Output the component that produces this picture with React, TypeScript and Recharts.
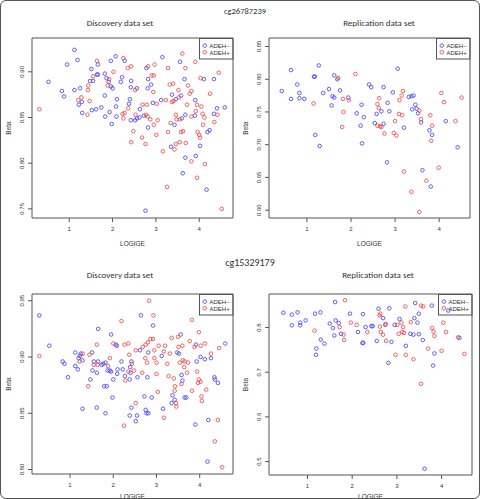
import React from "react";
import {
  ScatterChart,
  Scatter,
  XAxis,
  YAxis,
  ReferenceArea,
  Label,
} from "recharts";

// LOGIGE / Beta pairs per probe, data set and ADEH status
const cg26DiscNeg: [number, number][] = [
  [1.12, 0.924], [1.19, 0.913], [0.95, 0.908], [1.51, 0.903], [1.66, 0.908], [1.96, 0.912], [2.07, 0.917],
  [2.28, 0.912], [2.78, 0.904], [3.15, 0.916], [3.56, 0.911], [4.34, 0.892], [4.11, 0.892], [0.52, 0.889],
  [0.83, 0.879], [0.88, 0.873], [1.12, 0.88], [1.25, 0.882], [1.48, 0.89], [1.55, 0.89], [1.64, 0.897],
  [1.66, 0.897], [1.82, 0.898], [1.86, 0.893], [1.91, 0.889], [1.96, 0.884], [2.0, 0.882], [1.82, 0.874],
  [2.19, 0.889], [2.22, 0.894], [2.42, 0.883], [2.43, 0.89], [2.56, 0.882], [2.81, 0.882], [2.82, 0.892],
  [2.89, 0.886], [3.66, 0.892], [3.37, 0.875], [3.46, 0.87], [3.58, 0.874], [1.22, 0.864], [1.29, 0.867],
  [2.1, 0.87], [2.4, 0.87], [2.38, 0.865], [2.93, 0.866], [3.12, 0.869], [3.91, 0.869], [4.41, 0.86],
  [4.59, 0.861], [1.3, 0.855], [1.52, 0.858], [1.62, 0.859], [1.74, 0.861], [2.08, 0.862], [1.93, 0.856],
  [1.83, 0.851], [2.09, 0.851], [2.63, 0.859], [2.72, 0.852], [2.62, 0.85], [2.56, 0.849], [2.42, 0.847],
  [2.52, 0.847], [3.6, 0.849], [3.68, 0.853], [3.9, 0.852], [4.34, 0.854], [1.98, 0.843], [3.43, 0.842],
  [2.82, 0.839], [4.19, 0.834], [4.24, 0.836], [3.35, 0.818], [4.02, 0.819], [3.68, 0.806], [3.92, 0.808],
  [3.62, 0.789], [4.17, 0.771], [2.76, 0.748],
];
const cg26DiscPos: [number, number][] = [
  [1.64, 0.912], [2.25, 0.915], [2.35, 0.904], [2.43, 0.906], [2.82, 0.906], [2.97, 0.908], [3.28, 0.904],
  [3.61, 0.92], [3.68, 0.904], [3.91, 0.911], [4.45, 0.899], [4.03, 0.893], [1.44, 0.885], [1.55, 0.895],
  [1.92, 0.892], [1.89, 0.885], [2.02, 0.9], [2.52, 0.88], [2.9, 0.896], [2.95, 0.896], [2.94, 0.878],
  [3.32, 0.886], [3.4, 0.887], [3.52, 0.88], [3.53, 0.872], [3.74, 0.885], [3.82, 0.879], [3.78, 0.876],
  [4.25, 0.876], [1.43, 0.88], [1.21, 0.869], [1.28, 0.872], [1.47, 0.868], [2.69, 0.864], [2.79, 0.864],
  [3.02, 0.865], [3.23, 0.869], [3.37, 0.867], [3.41, 0.868], [3.72, 0.864], [3.95, 0.864], [4.05, 0.862],
  [0.31, 0.859], [1.42, 0.853], [2.23, 0.854], [2.28, 0.855], [2.36, 0.86], [2.53, 0.853], [2.77, 0.853],
  [2.81, 0.851], [2.25, 0.849], [2.87, 0.848], [3.46, 0.853], [3.55, 0.848], [3.82, 0.851], [3.92, 0.857],
  [4.08, 0.854], [4.12, 0.85], [4.42, 0.853], [3.04, 0.847], [2.95, 0.842], [3.34, 0.844], [3.48, 0.848],
  [4.09, 0.842], [4.35, 0.845], [2.48, 0.835], [2.68, 0.828], [3.01, 0.831], [3.28, 0.834], [3.58, 0.834],
  [3.63, 0.835], [3.96, 0.834], [4.0, 0.831], [4.02, 0.828], [2.43, 0.823], [2.76, 0.821], [3.46, 0.821],
  [3.55, 0.823], [3.69, 0.822], [3.43, 0.815], [3.16, 0.813], [3.82, 0.802], [4.13, 0.799], [3.95, 0.784],
  [3.26, 0.774], [4.52, 0.75],
];
const cg26RepNeg: [number, number][] = [
  [0.43, 0.782], [0.64, 0.814], [0.64, 0.77], [0.78, 0.792], [0.83, 0.779], [0.83, 0.771], [0.94, 0.77],
  [1.16, 0.804], [1.18, 0.804], [1.27, 0.821], [1.37, 0.779], [1.5, 0.785], [1.56, 0.76], [1.58, 0.774],
  [1.62, 0.772], [1.62, 0.806], [1.75, 0.783], [1.94, 0.772], [1.69, 0.8], [2.24, 0.761], [2.13, 0.748],
  [2.29, 0.742], [2.22, 0.729], [2.25, 0.702], [1.19, 0.715], [1.29, 0.698], [2.41, 0.792], [2.46, 0.788],
  [2.74, 0.788], [2.83, 0.764], [2.95, 0.78], [3.06, 0.816], [2.58, 0.747], [2.69, 0.751], [2.54, 0.733],
  [2.74, 0.732], [2.87, 0.751], [3.31, 0.773], [3.37, 0.774], [3.42, 0.775], [3.46, 0.761], [3.39, 0.754],
  [3.49, 0.755], [3.52, 0.748], [3.59, 0.734], [3.2, 0.726], [3.78, 0.722], [3.84, 0.715], [4.15, 0.736],
  [4.42, 0.696], [2.82, 0.673], [3.62, 0.661], [3.81, 0.636],
];
const cg26RepPos: [number, number][] = [
  [1.15, 0.763], [1.71, 0.802], [1.82, 0.77], [1.95, 0.768], [2.1, 0.808], [1.83, 0.75], [1.8, 0.727],
  [2.64, 0.771], [2.6, 0.762], [2.63, 0.756], [2.6, 0.729], [2.66, 0.728], [2.69, 0.727], [2.76, 0.717],
  [3.0, 0.736], [2.97, 0.718], [3.03, 0.714], [3.09, 0.747], [3.16, 0.745], [3.1, 0.768], [3.15, 0.775],
  [3.18, 0.782], [3.55, 0.752], [3.59, 0.739], [3.8, 0.745], [3.84, 0.729], [3.82, 0.706], [4.05, 0.779],
  [4.11, 0.765], [4.51, 0.772], [4.37, 0.736], [3.99, 0.665], [3.2, 0.659], [3.71, 0.645], [3.37, 0.628],
  [3.55, 0.597],
];
const cg15DiscNeg: [number, number][] = [
  [0.29, 0.937], [0.52, 0.91], [0.83, 0.896], [0.87, 0.894], [1.12, 0.904], [1.12, 0.892], [1.18, 0.889],
  [0.95, 0.882], [1.2, 0.899], [1.23, 0.901], [1.25, 0.903], [1.29, 0.897], [1.51, 0.904], [1.47, 0.88],
  [1.52, 0.888], [1.55, 0.896], [1.62, 0.886], [1.65, 0.896], [1.65, 0.925], [1.73, 0.893], [1.77, 0.894],
  [1.82, 0.895], [1.87, 0.888], [1.92, 0.888], [1.95, 0.887], [1.95, 0.92], [2.0, 0.88], [1.98, 0.864],
  [2.06, 0.911], [2.08, 0.91], [2.09, 0.885], [2.1, 0.889], [2.19, 0.896], [2.22, 0.889], [2.27, 0.883],
  [2.38, 0.88], [2.42, 0.896], [2.39, 0.891], [2.4, 0.886], [2.56, 0.882], [2.64, 0.937], [2.62, 0.906],
  [2.81, 0.904], [2.79, 0.882], [2.72, 0.865], [2.89, 0.864], [2.92, 0.928], [3.12, 0.901], [3.15, 0.854],
  [2.42, 0.855], [2.38, 0.848], [2.55, 0.848], [2.52, 0.843], [2.75, 0.853], [2.77, 0.85], [2.81, 0.85],
  [1.62, 0.855], [1.29, 0.854], [1.82, 0.85], [1.79, 0.874], [1.85, 0.874], [3.48, 0.904], [3.52, 0.903],
  [3.56, 0.92], [3.58, 0.884], [3.6, 0.879], [3.65, 0.864], [3.69, 0.864], [3.37, 0.866], [3.42, 0.862],
  [3.35, 0.859], [3.91, 0.911], [3.93, 0.896], [4.02, 0.9], [4.12, 0.898], [4.26, 0.899], [4.34, 0.882],
  [4.35, 0.88], [4.42, 0.877], [4.59, 0.912], [4.2, 0.844], [3.9, 0.84], [4.18, 0.807],
];
const cg15DiscPos: [number, number][] = [
  [0.29, 0.901], [1.29, 0.903], [1.22, 0.896], [1.45, 0.902], [1.55, 0.893], [1.42, 0.874], [1.62, 0.911],
  [1.64, 0.893], [1.92, 0.899], [1.88, 0.892], [2.0, 0.912], [2.19, 0.932], [2.26, 0.911], [2.35, 0.912],
  [2.37, 0.902], [2.43, 0.894], [2.48, 0.888], [2.52, 0.906], [2.35, 0.887], [2.28, 0.879], [2.67, 0.886],
  [2.68, 0.909], [2.75, 0.911], [2.8, 0.913], [2.74, 0.899], [2.78, 0.895], [2.83, 0.95], [2.93, 0.937],
  [2.86, 0.916], [2.92, 0.916], [2.95, 0.906], [2.95, 0.899], [3.0, 0.895], [3.05, 0.91], [3.0, 0.885],
  [3.03, 0.869], [3.17, 0.846], [3.17, 0.905], [3.2, 0.91], [3.25, 0.894], [3.28, 0.883], [3.31, 0.903],
  [3.35, 0.917], [3.4, 0.881], [3.42, 0.87], [3.43, 0.874], [3.45, 0.859], [3.5, 0.918], [3.46, 0.856],
  [3.51, 0.909], [3.54, 0.895], [3.6, 0.91], [3.58, 0.876], [3.61, 0.897], [3.64, 0.891], [3.65, 0.896],
  [3.71, 0.886], [3.73, 0.895], [3.77, 0.914], [3.82, 0.933], [3.82, 0.87], [3.88, 0.909], [3.94, 0.887],
  [3.96, 0.877], [3.98, 0.88], [3.98, 0.922], [4.02, 0.91], [4.02, 0.878], [4.04, 0.865], [4.05, 0.861],
  [4.12, 0.912], [4.15, 0.871], [4.26, 0.903], [4.45, 0.908], [4.42, 0.844], [4.35, 0.825], [4.52, 0.802],
  [2.52, 0.859], [2.25, 0.839],
];
const cg15RepNeg: [number, number][] = [
  [0.46, 0.833], [0.65, 0.829], [0.78, 0.834], [0.65, 0.805], [0.84, 0.811], [0.84, 0.805], [0.96, 0.816],
  [1.17, 0.831], [1.29, 0.834], [1.3, 0.773], [1.38, 0.764], [1.2, 0.753], [1.19, 0.739], [1.5, 0.809],
  [1.57, 0.799], [1.6, 0.782], [1.63, 0.816], [1.7, 0.81], [1.75, 0.786], [1.62, 0.857], [1.95, 0.831],
  [2.13, 0.79], [2.24, 0.83], [2.23, 0.765], [2.25, 0.766], [2.3, 0.801], [2.43, 0.803], [2.46, 0.803],
  [2.55, 0.77], [2.59, 0.842], [2.69, 0.821], [2.74, 0.806], [2.83, 0.843], [2.88, 0.768], [2.95, 0.806],
  [3.06, 0.819], [3.2, 0.759], [3.3, 0.786], [3.37, 0.784], [3.39, 0.821], [3.41, 0.855], [3.46, 0.811],
  [3.49, 0.831], [3.49, 0.785], [3.58, 0.772], [3.78, 0.849], [3.84, 0.742], [3.81, 0.715], [4.15, 0.838],
  [4.4, 0.777], [2.81, 0.721], [3.62, 0.484],
];
const cg15RepPos: [number, number][] = [
  [1.16, 0.793], [1.84, 0.861], [1.72, 0.801], [1.81, 0.784], [1.82, 0.772], [1.97, 0.811], [2.1, 0.806],
  [2.34, 0.79], [2.61, 0.827], [2.63, 0.831], [2.62, 0.802], [2.64, 0.79], [2.69, 0.784], [2.75, 0.808],
  [2.76, 0.77], [2.97, 0.739], [3.01, 0.806], [3.04, 0.786], [3.1, 0.811], [3.12, 0.79], [3.16, 0.788],
  [3.14, 0.801], [3.19, 0.847], [3.2, 0.739], [3.31, 0.812], [3.37, 0.729], [3.54, 0.849], [3.59, 0.847],
  [3.54, 0.674], [3.7, 0.753], [3.79, 0.799], [3.82, 0.791], [3.84, 0.781], [4.0, 0.748], [4.04, 0.811],
  [4.1, 0.79], [4.37, 0.778], [4.51, 0.741],
];

const xTicks = [1, 2, 3, 4];
const cg26DiscTicks = [0.75, 0.8, 0.85, 0.9];
const cg26RepTicks = [0.6, 0.65, 0.7, 0.75, 0.8, 0.85];
const cg15DiscTicks = [0.8, 0.85, 0.9, 0.95];
const cg15RepTicks = [0.5, 0.6, 0.7, 0.8];

const NEG = "#3a3af2";
const POS = "#ec3f3f";
const AXIS = "#555";
const SANS = "'Liberation Sans', Arial, sans-serif";
const TITLE_FONT = "Carlito, Lato, 'Open Sans', sans-serif";

const toPoints = (arr: [number, number][]) => arr.map(([x, y]) => ({ x, y }));

const ring = (color: string) => (props: any) =>
  props.cx == null ? <g /> : (
    <circle cx={props.cx} cy={props.cy} r={1.8} fill="none" stroke={color} strokeWidth={0.8} />
  );

const YTick = (props: any) => {
  const { x, y, payload, digits } = props;
  return (
    <text
      transform={`translate(${x - 2},${y}) rotate(-90)`}
      textAnchor="middle"
      fontSize={6}
      fontFamily={SANS}
      fill="#333"
    >
      {Number(payload.value).toFixed(digits)}
    </text>
  );
};

type PanelProps = {
  left: number;
  top: number;
  height: number;
  plotLeft: number;
  plotTop: number;
  plotRight: number;
  plotBottom: number;
  labelOffset: number;
  xDomain: [number, number];
  yDomain: [number, number];
  yTicks: number[];
  digits: number;
  neg: [number, number][];
  pos: [number, number][];
};

function Panel(p: PanelProps) {
  const width = 240;
  const margin = {
    top: p.plotTop,
    right: width - p.plotRight,
    left: p.plotLeft - 24,
    bottom: p.height - p.plotBottom - 20,
  };
  const midY = (p.plotTop + p.plotBottom) / 2;
  return (
    <div style={{ position: "absolute", left: p.left, top: p.top, width, height: p.height }}>
      <ScatterChart width={width} height={p.height} margin={margin}>
        <XAxis
          dataKey="x"
          type="number"
          domain={p.xDomain}
          ticks={xTicks}
          allowDataOverflow
          axisLine={false}
          tickLine={{ stroke: AXIS }}
          tickSize={4}
          tickMargin={5}
          height={20}
          tick={{ fontSize: 6, fill: "#333", fontFamily: SANS }}
        >
          <Label
            value="LOGIGE"
            position="bottom"
            offset={p.labelOffset}
            style={{ fontSize: 6.5, fill: "#333", fontFamily: SANS }}
          />
        </XAxis>
        <YAxis
          dataKey="y"
          type="number"
          domain={p.yDomain}
          ticks={p.yTicks}
          allowDataOverflow
          axisLine={false}
          tickLine={{ stroke: AXIS }}
          tickSize={4}
          tickMargin={2}
          width={24}
          tick={(t: any) => <YTick {...t} digits={p.digits} />}
        >
          <Label
            content={() => (
              <text
                transform={`translate(${p.plotLeft - 21},${midY}) rotate(-90)`}
                textAnchor="middle"
                fontSize={6.5}
                fontFamily={SANS}
                fill="#333"
              >
                Beta
              </text>
            )}
          />
        </YAxis>
        <ReferenceArea
          x1={p.xDomain[0]}
          x2={p.xDomain[1]}
          y1={p.yDomain[0]}
          y2={p.yDomain[1]}
          fill="none"
          stroke={AXIS}
          strokeWidth={1}
        />
        <Scatter data={toPoints(p.neg)} shape={ring(NEG)} isAnimationActive={false} />
        <Scatter data={toPoints(p.pos)} shape={ring(POS)} isAnimationActive={false} />
      </ScatterChart>
      <svg
        width={35}
        height={22}
        style={{ position: "absolute", left: p.plotRight - 34, top: p.plotTop }}
      >
        <rect x={0.5} y={0.5} width={33.5} height={20.5} fill="none" stroke={AXIS} strokeWidth={1} />
        <circle cx={5.8} cy={7.6} r={1.8} fill="none" stroke={NEG} strokeWidth={0.8} />
        <text x={10.5} y={9.8} fontSize={6} fontFamily={SANS} fill="#333">ADEH–</text>
        <circle cx={5.8} cy={14.3} r={1.8} fill="none" stroke={POS} strokeWidth={0.8} />
        <text x={10.5} y={16.5} fontSize={6} fontFamily={SANS} fill="#333">ADEH+</text>
      </svg>
    </div>
  );
}

const Title = ({ x, y, size, children }: { x: number; y: number; size: number; children: string }) => (
  <div
    style={{
      position: "absolute",
      left: x,
      top: y,
      transform: "translate(-50%, -50%)",
      fontFamily: TITLE_FONT,
      fontSize: size,
      fontWeight: 400,
      color: "#333",
      whiteSpace: "nowrap",
      lineHeight: 1,
    }}
  >
    {children}
  </div>
);

export default function App() {
  return (
    <div
      style={{
        position: "absolute",
        left: 0,
        top: 0,
        width: 480,
        height: 499,
        background: "#fff",
        overflow: "hidden",
      }}
    >
      <Panel
        left={0} top={0} height={250}
        plotLeft={32} plotTop={38} plotRight={233} plotBottom={218} labelOffset={3}
        xDomain={[0.14, 4.78]} yDomain={[0.74, 0.937]}
        yTicks={cg26DiscTicks} digits={2}
        neg={cg26DiscNeg} pos={cg26DiscPos}
      />
      <Panel
        left={240} top={0} height={250}
        plotLeft={29} plotTop={38} plotRight={230} plotBottom={218} labelOffset={3}
        xDomain={[0.14, 4.7]} yDomain={[0.588, 0.863]}
        yTicks={cg26RepTicks} digits={2}
        neg={cg26RepNeg} pos={cg26RepPos}
      />
      <Panel
        left={0} top={250} height={249}
        plotLeft={32} plotTop={44} plotRight={233} plotBottom={224} labelOffset={0}
        xDomain={[0.12, 4.77]} yDomain={[0.796, 0.956]}
        yTicks={cg15DiscTicks} digits={2}
        neg={cg15DiscNeg} pos={cg15DiscPos}
      />
      <Panel
        left={240} top={250} height={249}
        plotLeft={29} plotTop={44} plotRight={232} plotBottom={225} labelOffset={-1}
        xDomain={[0.14, 4.68]} yDomain={[0.47, 0.875]}
        yTicks={cg15RepTicks} digits={1}
        neg={cg15RepNeg} pos={cg15RepPos}
      />
      <Title x={245} y={11} size={8.5}>cg26787239</Title>
      <Title x={120} y={22} size={9}>Discovery data set</Title>
      <Title x={379} y={22} size={9}>Replication data set</Title>
      <Title x={250} y={263} size={10}>cg15329179</Title>
      <Title x={120} y={274} size={9}>Discovery data set</Title>
      <Title x={378} y={274} size={9}>Replication data set</Title>
      <div
        style={{
          position: "absolute",
          left: 0,
          top: 0,
          width: 480,
          height: 499,
          boxSizing: "border-box",
          border: "1px solid #555",
          borderRadius: 6,
          pointerEvents: "none",
        }}
      />
    </div>
  );
}
